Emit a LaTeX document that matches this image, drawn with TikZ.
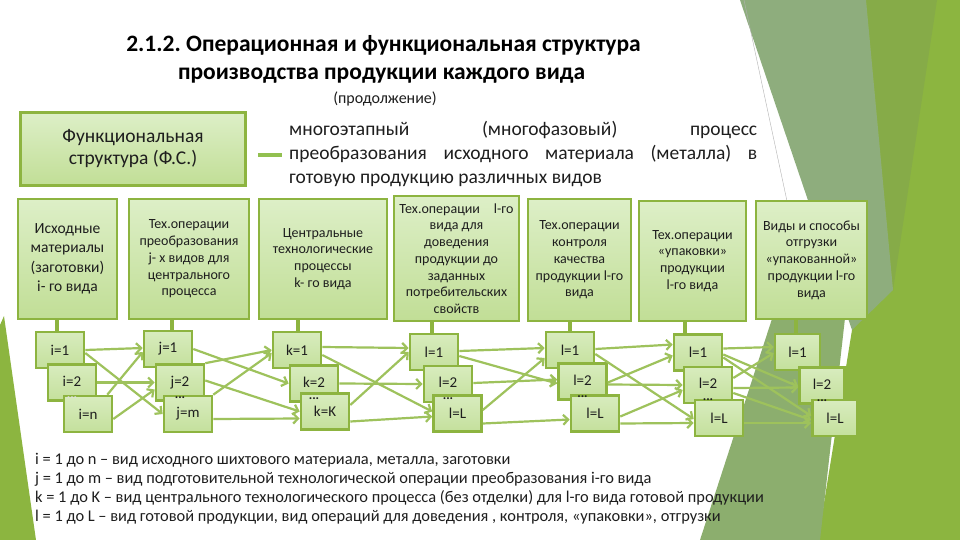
\documentclass[tikz,border=0pt]{standalone}
\usepackage{fontspec}
\setmainfont{Carlito}
\usetikzlibrary{arrows.meta}
\frenchspacing
\definecolor{bordergreen}{RGB}{141,180,64}
\definecolor{boxtop}{RGB}{221,239,199}
\definecolor{boxbot}{RGB}{193,222,150}
\definecolor{idxtop}{RGB}{216,236,190}
\definecolor{idxbot}{RGB}{196,224,156}
\definecolor{arrowgreen}{RGB}{158,194,92}
\definecolor{dashgreen}{RGB}{146,192,80}
\definecolor{bgbright}{RGB}{140,181,64}
\definecolor{bgolive}{RGB}{134,171,72}
\definecolor{bggray}{RGB}{142,173,125}
\definecolor{bgmid}{RGB}{140,174,110}
\definecolor{textdark}{RGB}{30,30,30}
\begin{document}
\begin{tikzpicture}[x=1pt,y=-1pt,
  hdr/.style={draw=bordergreen, line width=2.8pt, top color=boxtop, bottom color=boxbot,
    align=center, inner sep=0pt, text=textdark, font=\fontsize{14}{16.7}\selectfont},
  idx/.style={draw=bordergreen, line width=2.6pt, top color=idxtop, bottom color=idxbot,
    minimum width=48pt, minimum height=36pt, inner sep=0pt, text=textdark,
    font=\fontsize{15}{16}\selectfont},
  dotsty/.style={inner sep=0pt, font=\fontsize{13}{13}\selectfont\bfseries, text=textdark},
  arr/.style={draw=arrowgreen, line width=2.2pt, -{Straight Barb[length=5pt,width=10pt]}},
  stub/.style={draw=bordergreen, line width=4pt},
  txt/.style={inner sep=0pt, text=textdark}
]
\useasboundingbox (0,0) rectangle (960,540);
\fill[white] (0,0) rectangle (960,540);
% background facets
\fill[bgbright] (865,0) -- (960,0) -- (960,540) -- (818,540) -- (852,330) -- cycle;
\fill[bgolive] (866,0) -- (937,0) -- (893,290) -- cycle;
\fill[bggray] (740,0) -- (866,0) -- (893,290) -- (852,330) -- cycle;
\fill[bgmid] (700,540) -- (784,282) -- (845,318) -- (820,540) -- cycle;
\fill[bgbright] (0,325) -- (4,316) -- (36,540) -- (0,540) -- cycle;
\draw[gray!60, line width=0.4pt] (744,0) -- (806,290);

% title
\node[txt, anchor=base, font=\fontsize{23.5}{26}\selectfont\bfseries, text=black] (t1) at (383.5,52) {2.1.2. Операционная и функциональная структура};
\node[txt, anchor=base, font=\fontsize{23.5}{26}\selectfont\bfseries, text=black] (t2) at (381.5,80) {производства продукции каждого вида};
\node[txt, anchor=base, font=\fontsize{16}{18}\selectfont] (t3) at (385,103.5) {(продолжение)};

% functional structure box
\node[hdr, minimum width=225pt, minimum height=73pt, font=\fontsize{19.5}{22}\selectfont] (fs) at (133,149) {Функциональная\\структура (Ф.С.)};
\coordinate (dA) at (258,155);
\coordinate (dB) at (282,155);
\draw[draw=dashgreen, line width=4.5pt] (dA) -- (dB);
\node[txt, anchor=base west, font=\fontsize{19.5}{22}\selectfont] (p1) at (289,136) {\makebox[468pt][s]{многоэтапный (многофазовый) процесс}};
\node[txt, anchor=base west, font=\fontsize{19.5}{22}\selectfont] (p2) at (289,159.5) {\makebox[468pt][s]{преобразования исходного материала (металла) в}};
\node[txt, anchor=base west, font=\fontsize{19.5}{22}\selectfont] (p3) at (289,183) {готовую продукцию различных видов};

% header boxes
\node[hdr, minimum width=99pt, minimum height=120pt, font=\fontsize{15.5}{19.5}\selectfont] (h1) at (67.5,259) {Исходные\\материалы\\(заготовки)\\i- го вида};
\node[hdr, minimum width=120pt, minimum height=120pt] (h2) at (189,259) {Тех.операции\\преобразования\\j- х видов для\\центрального\\процесса};
\node[hdr, minimum width=128pt, minimum height=120pt] (h3) at (323,259) {Центральные\\технологические\\процессы\\k- го вида};
\node[hdr, minimum width=125pt, minimum height=125pt] (h4) at (456.5,258.5) {Тех.операции\quad l-го\\вида для\\доведения\\продукции до\\заданных\\потребительских\\свойств};
\node[hdr, minimum width=103pt, minimum height=122pt] (h5) at (579.5,260) {Тех.операции\\контроля\\качества\\продукции l-го\\вида};
\node[hdr, minimum width=107pt, minimum height=120pt] (h6) at (692.5,261) {Тех.операции\\«упаковки»\\продукции\quad\\ l-го вида};
\node[hdr, minimum width=111pt, minimum height=118pt] (h7) at (811.5,260) {Виды и способы\\отгрузки\\«упакованной»\\продукции l-го\\вида};

% index boxes
\node[idx] (i1) at (60,350) {i=1};
\node[idx] (i2) at (72,382.5) {\raisebox{3pt}{i=2}};
\node[idx] (in) at (88,414) {i=n};
\node[idx] (j1) at (168,349) {j=1};
\node[idx] (j2) at (180,382.5) {\raisebox{3pt}{j=2}};
\node[idx] (jm) at (188,414) {j=m};
\node[idx] (k1) at (297,350) {k=1};
\node[idx] (k2) at (314,383.5) {\raisebox{3pt}{k=2}};
\node[idx] (kK) at (325,411.5) {k=K};
\node[idx] (l1) at (434,352) {l=1};
\node[idx] (l2) at (448,384) {\raisebox{3pt}{l=2}};
\node[idx] (lL) at (457.5,413.5) {l=L};
\node[idx] (m1) at (570,350) {l=1};
\node[idx] (m2) at (582.5,381.5) {\raisebox{3pt}{l=2}};
\node[idx] (mL) at (595,413.5) {l=L};
\node[idx] (b1) at (698,352.5) {l=1};
\node[idx] (b2) at (708,385) {\raisebox{3pt}{l=2}};
\node[idx] (bL) at (719,418) {l=L};
\node[idx, minimum width=45pt] (c1) at (797.5,352) {l=1};
\node[idx, minimum width=45pt] (c2) at (822,385.5) {\raisebox{3pt}{l=2}};
\node[idx, minimum width=45pt] (cL) at (835,418) {l=L};

% dots
\node[dotsty, text=white!75!gray] (di) at ([yshift=-15]i2.center) {...};
\node[dotsty] (dj) at ([yshift=-15]j2.center) {...};
\node[dotsty] (dk) at ([yshift=-15]k2.center) {...};
\node[dotsty] (dl) at ([yshift=-15]l2.center) {...};
\node[dotsty] (dm) at ([yshift=-15]m2.center) {...};
\node[dotsty] (db) at ([yshift=-15]b2.center) {...};
\node[dotsty] (dc) at ([yshift=-15]c2.center) {...};

% stubs
\draw[stub] ([xshift=-3]i1.north) -- ([xshift=-3]i1.north |- h1.south);
\draw[stub] ([xshift=4]j1.north) -- ([xshift=4]j1.north |- h2.south);
\draw[stub] ([xshift=1]k1.north) -- ([xshift=1]k1.north |- h3.south);
\draw[stub] ([xshift=-2]l1.north) -- ([xshift=-2]l1.north |- h4.south);
\draw[stub] (m1.north) -- (m1.north |- h5.south);
\draw[stub] ([xshift=-13]b1.north) -- ([xshift=-13]b1.north |- h6.south);
\draw[stub] ([xshift=-2]c1.north) -- ([xshift=-2]c1.north |- h7.south);

% arrows col1 -> col2
\draw[arr] (i1.east) -- ([yshift=1]j1.west);
\draw[arr] ([yshift=-3]i1.east) -- (jm.west);
\draw[arr] (i2.east) -- (j2.west);
\draw[arr] ([xshift=-6]in.north east) -- ([yshift=-3]j1.west);
\draw[arr] ([yshift=-5]in.east) -- ([yshift=-7]j2.west);
% col2 -> col3
\draw[arr] (j1.east) -- (k2.west);
\draw[arr] (j2.north east) -- (k1.west);
\draw[arr] ([yshift=2]j2.east) -- (kK.west);
\draw[arr] (jm.north east) -- ([yshift=-3]k1.west);
\draw[arr] ([yshift=-5]jm.east) -- ([yshift=-7]kK.west);
% col3 -> col4
\draw[arr] ([yshift=3]k1.east) -- ([yshift=4]l1.west);
\draw[arr] ([yshift=-5]k1.east) -- ([yshift=2]lL.west);
\draw[arr] (k2.east) -- (l2.west);
\draw[arr] ([yshift=6.5]kK.east) -- (l1.west);
\draw[arr] ([yshift=-10]kK.east) -- ([yshift=-3]lL.west);
% col4 -> col5
\draw[arr] ([yshift=1]l1.east) -- ([yshift=2]m1.west);
\draw[arr] ([yshift=-4]l1.east) -- ([yshift=-2]m2.west);
\draw[arr] ([yshift=1]l2.east) -- ([yshift=2]m2.west);
\draw[arr] ([yshift=3.5]lL.east) -- ([yshift=-8]m1.west);
\draw[arr] ([yshift=-10]lL.east) -- ([yshift=-6]mL.west);
% col5 -> col6
\draw[arr] ([yshift=1]m1.east) -- ([yshift=8]b1.west);
\draw[arr] ([yshift=-4]m1.east) -- ([yshift=-1]bL.west);
\draw[arr] ([yshift=-3]m2.east) -- (b2.west);
\draw[arr] ([yshift=-1]m2.east) -- ([yshift=-3]b1.west);
\draw[arr] ([yshift=-3]mL.east) -- ([yshift=-5]b2.west);
\draw[arr] ([yshift=-10]mL.east) -- ([yshift=-5]bL.west);
% col6 -> col7
\draw[arr] ([yshift=4]b1.east) -- ([yshift=5]c1.west);
\draw[arr] ([yshift=-2]b1.east) -- ([yshift=-1]c2.west);
\draw[arr] ([yshift=-5]b1.east) -- ([yshift=2]cL.west);
\draw[arr] ([yshift=7]b2.east) -- ([yshift=-1]c1.west);
\draw[arr] ([yshift=-3]b2.east) -- ([yshift=-2]c2.west);
\draw[arr] ([yshift=-8]b2.east) -- ([yshift=-2]cL.west);
\draw[arr] ([yshift=-5]bL.east) -- ([yshift=-5]cL.west);

% legend
\node[txt, anchor=base west, font=\fontsize{16.4}{19}\selectfont] (n1) at (35,464) {i = 1 до n – вид исходного шихтового материала, металла, заготовки};
\node[txt, anchor=base west, font=\fontsize{16.4}{19}\selectfont] (n2) at (35,483) {j = 1 до m – вид подготовительной технологической операции преобразования i-го вида};
\node[txt, anchor=base west, font=\fontsize{16.4}{19}\selectfont] (n3) at (35,502) {k = 1 до K – вид центрального технологического процесса (без отделки) для l-го вида готовой продукции};
\node[txt, anchor=base west, font=\fontsize{16.4}{19}\selectfont] (n4) at (35,521) {l = 1 до L – вид готовой продукции, вид операций для доведения , контроля, «упаковки», отгрузки};
\end{tikzpicture}
\end{document}
